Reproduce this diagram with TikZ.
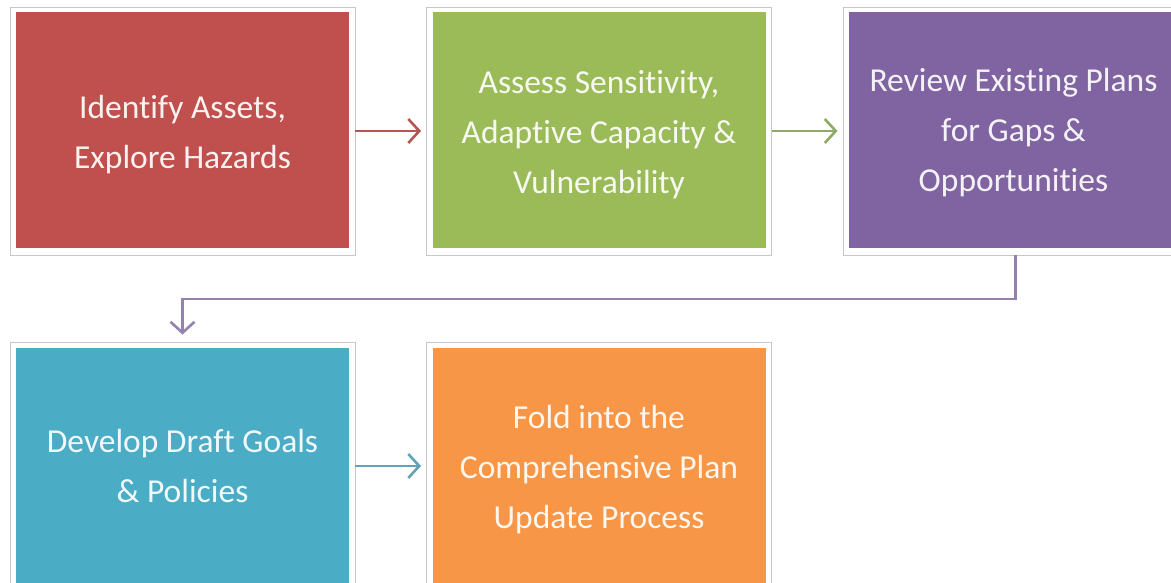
\documentclass[tikz,border=0pt]{standalone}
\usepackage{fontspec}
\setmainfont{Carlito}[Ligatures=NoCommon]
\usetikzlibrary{arrows.meta}
\definecolor{cRed}{HTML}{C0504D}
\definecolor{cGreen}{HTML}{9BBB59}
\definecolor{cPurple}{HTML}{8064A2}
\definecolor{cTeal}{HTML}{4BACC6}
\definecolor{cOrange}{HTML}{F79646}
\definecolor{aRed}{HTML}{B25654}
\definecolor{aGreen}{HTML}{8FAA66}
\definecolor{aPurple}{HTML}{9581B0}
\definecolor{aTeal}{HTML}{5FA3B6}
\tikzset{
  outerbox/.style={draw=black!22, line width=0.9pt, fill=white, minimum width=345pt, minimum height=248pt, inner sep=0pt},
  innerbox/.style={fill=#1, minimum width=333pt, minimum height=236pt, inner sep=0pt},
  boxtext/.style={align=center, inner sep=0pt, text=white, text opacity=0.92, font=\fontsize{33.5}{50}\selectfont},
  conn/.style={draw=#1, line width=2.6pt, -{Straight Barb[length=11pt,width=24pt,line width=2.6pt]}, shorten >=5pt}
}
\begin{document}
\begin{tikzpicture}[x=1pt,y=-1pt]
\useasboundingbox (0,0) rectangle (1171,583);
\clip (0,0) rectangle (1171,583);
\fill[white] (0,0) rectangle (1171,583);
% outer frames
\node[outerbox] (o1) at (182.5,131) {};
\node[outerbox] (o2) at (599,131) {};
\node[outerbox] (o3) at (1015.5,131) {};
\node[outerbox] (o4) at (182.5,466) {};
\node[outerbox] (o5) at (599,466) {};
% coloured boxes
\node[innerbox=cRed] (b1) at (182.5,130) {};
\node[innerbox=cGreen] (b2) at (599,130) {};
\node[innerbox=cPurple] (b3) at (1015.5,130) {};
\node[innerbox=cTeal] (b4) at (182.5,466) {};
\node[innerbox=cOrange] (b5) at (599,466) {};
% texts
\node[boxtext] (t1) at ([yshift=-5pt]b1.center) {Identify Assets,\\Explore Hazards};
\node[boxtext] (t2) at ([yshift=-5pt]b2.center) {Assess Sensitivity,\\Adaptive Capacity \&\\Vulnerability};
\node[boxtext] (t3) at ([yshift=-3pt,xshift=-2pt]b3.center) {Review Existing Plans\\for Gaps \&\\Opportunities};
\node[boxtext] (t4) at (b4.center) {Develop Draft Goals\\\& Policies};
\node[boxtext] (t5) at ([yshift=-4pt]b5.center) {Fold into the\\Comprehensive Plan\\Update Process};
% connectors
\coordinate (turn) at (1015.5,299);
\draw[conn=aRed] (o1.east) -- (o2.west);
\draw[conn=aGreen] (o2.east) -- (o3.west);
\draw[conn=aPurple, shorten >=7pt] (o3.south) -- (turn) -| (o4.north);
\draw[conn=aTeal] (o4.east) -- (o5.west);
\end{tikzpicture}
\end{document}
